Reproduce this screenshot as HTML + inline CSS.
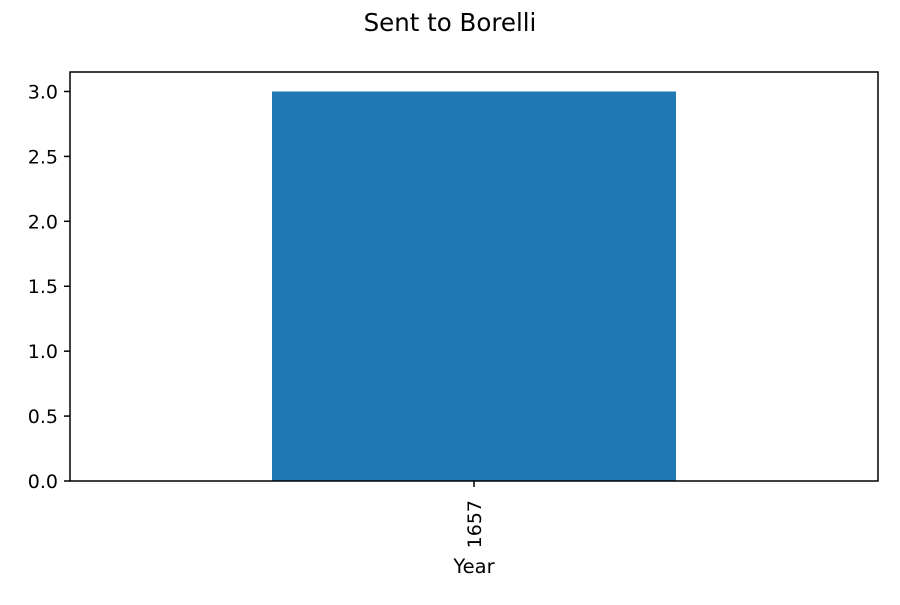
<!DOCTYPE html>
<html><head><meta charset="utf-8"><style>body{margin:0;background:#fff}svg{font-family:"DejaVu Sans","Liberation Sans",sans-serif}</style></head>
<body>
<svg id="chart" width="900" height="600" xmlns="http://www.w3.org/2000/svg">
<rect width="900" height="600" fill="#fff"/>
<text x="450" y="31" font-size="24.5" text-anchor="middle">Sent to Borelli</text>
<g id="plot"></g>
<rect x="70" y="72" width="808" height="409" fill="none" stroke="#000" stroke-width="1.5"/>
<text x="474" y="573" font-size="19.5" text-anchor="middle">Year</text>
</svg>
<script>
const categories = ["1657"];
const values = [3];
const yTicks = [0, 0.5, 1, 1.5, 2, 2.5, 3];
const yTickLabels = ["0.0","0.5","1.0","1.5","2.0","2.5","3.0"];
const L=70,R=878,T=72,B=481;
const yMax = 3.15;
const y = v => B - v/yMax*(B-T);
const band = (R-L)/categories.length;
const x = i => L + band*(i+0.5);
const g = document.getElementById('plot');
const NS='http://www.w3.org/2000/svg';
categories.forEach((c,i)=>{
  const bw=band*0.5;
  const r=document.createElementNS(NS,'rect');
  
  
  r.setAttribute('x',x(i)-bw/2);r.setAttribute('width',bw);
  r.setAttribute('y',y(values[i]));r.setAttribute('height',B-y(values[i]));
  r.setAttribute('fill','#1f77b4');g.appendChild(r);
  const t=document.createElementNS(NS,'line');
  
  
  t.setAttribute('x1',x(i));t.setAttribute('x2',x(i));t.setAttribute('y1',B);t.setAttribute('y2',B+6);t.setAttribute('stroke','#000');t.setAttribute('stroke-width','1.5');g.appendChild(t);
  const tl=document.createElementNS(NS,'text');
  
  
  tl.setAttribute('transform',`translate(${x(i)+7},${B+19}) rotate(-90)`);
  tl.setAttribute('text-anchor','end');tl.setAttribute('font-size','19');tl.textContent=c;g.appendChild(tl);
});
yTicks.forEach((v,i)=>{
  const t=document.createElementNS(NS,'line');
  
  
  t.setAttribute('x1',L-6);t.setAttribute('x2',L);t.setAttribute('y1',y(v));t.setAttribute('y2',y(v));t.setAttribute('stroke','#000');t.setAttribute('stroke-width','1.5');g.appendChild(t);
  const tl=document.createElementNS(NS,'text');
  
  
  tl.setAttribute('x',L-12);tl.setAttribute('y',y(v)+7);tl.setAttribute('text-anchor','end');tl.setAttribute('font-size','19');tl.textContent=yTickLabels[i];g.appendChild(tl);
});
</script>
</body></html>
